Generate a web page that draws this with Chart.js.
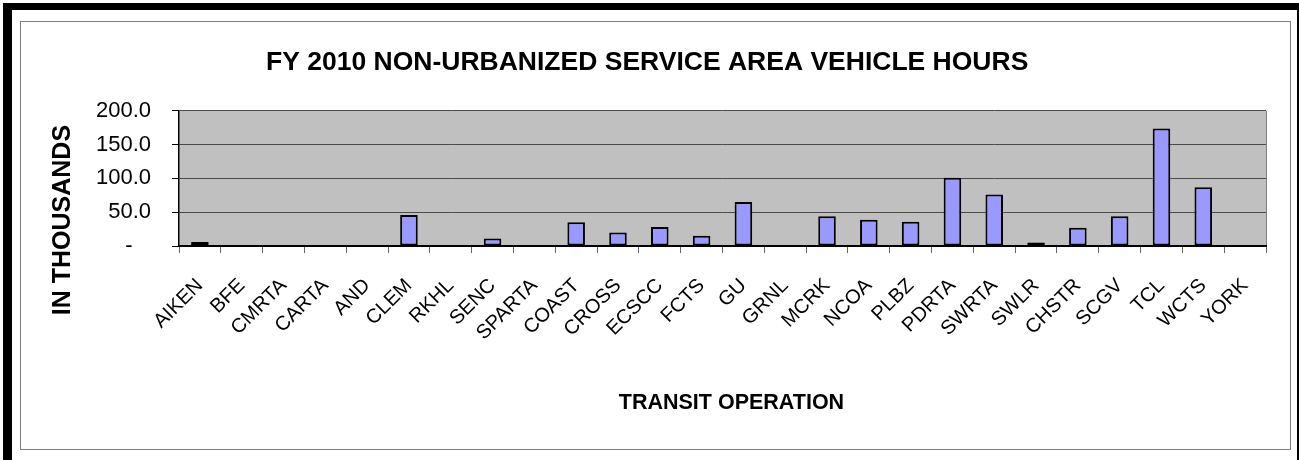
<!DOCTYPE html>
<html>
<head>
<meta charset="utf-8">
<script src="https://cdn.jsdelivr.net/npm/chart.js@4/dist/chart.umd.min.js"></script>
<style>
  html, body { margin: 0; padding: 0; background: #fff; overflow: hidden; }
  body { width: 1299px; height: 460px; position: relative; }
  .blk { position: absolute; background: #000; }
  #frame { position: absolute; left: 20px; top: 21px; width: 1271px; height: 429px;
           box-sizing: border-box; border: 1px solid #808080; }
  #box { position: absolute; left: 21px; top: 22px; width: 1268px; height: 426px; }
</style>
</head>
<body>
<div class="blk" style="left:3px;top:3px;width:1296px;height:7px"></div>
<div class="blk" style="left:3px;top:3px;width:9px;height:457px"></div>
<div class="blk" style="left:1297px;top:3px;width:2px;height:457px"></div>
<div id="frame"></div>
<div id="box"><canvas id="myChart"></canvas></div>
<script>
// transit operations and vehicle hours (thousands)
var operations = ['AIKEN', 'BFE', 'CMRTA', 'CARTA', 'AND', 'CLEM', 'RKHL', 'SENC', 'SPARTA',
    'COAST', 'CROSS', 'ECSCC', 'FCTS', 'GU', 'GRNL', 'MCRK', 'NCOA', 'PLBZ', 'PDRTA',
    'SWRTA', 'SWLR', 'CHSTR', 'SCGV', 'TCL', 'WCTS', 'YORK'];
var vehicleHours = [6, 0, 0, 0, 0, 46, 0, 11, 0,
    35, 20, 28, 15, 65, 0, 44, 39, 36, 101,
    76, 5, 27, 44, 174, 87, 1.5];
var yTicks = [0, 50, 100, 150, 200];

var fontFamily = 'Arial, "Liberation Sans", sans-serif';

// gray plot area like the old excel charts
var plotBackground = {
    id: 'plotBackground',
    beforeDraw: function(chart) {
        var a = chart.chartArea, c = chart.ctx;
        c.save();
        c.fillStyle = '#C0C0C0';
        c.fillRect(a.left, a.top, a.right - a.left, a.bottom - a.top);
        c.strokeStyle = '#808080';
        c.lineWidth = 1;
        c.beginPath();
        c.moveTo(a.right + 0.5, a.top);
        c.lineTo(a.right + 0.5, a.bottom);
        c.stroke();
        c.restore();
    }
};

var ctx = document.getElementById('myChart').getContext('2d');
var myChart = new Chart(ctx, {
    type: 'bar',
    data: {
        labels: operations,
        datasets: [{
            label: 'Vehicle Hours',
            data: vehicleHours,
            backgroundColor: '#9999FF',
            borderColor: '#000000',
            borderWidth: 2,
            borderSkipped: false,
            barPercentage: 0.42,
            categoryPercentage: 1
        }]
    },
    options: {
        responsive: true,
        maintainAspectRatio: false,
        animation: false,
        layout: { padding: { left: 0, right: 23, top: 0, bottom: 0 } },
        plugins: {
            legend: { display: false },
            tooltip: { enabled: false },
            title: {
                display: true,
                text: ' FY 2010 NON-URBANIZED SERVICE AREA VEHICLE HOURS',
                color: '#000',
                font: { family: fontFamily, size: 26.5, weight: 'bold', lineHeight: 1.2 },
                padding: { top: 25, bottom: 32 }
            }
        },
        scales: {
            x: {
                offset: true,
                grid: { offset: true, drawOnChartArea: false, tickLength: 7, tickColor: '#666', tickWidth: 1 },
                border: { color: '#000', width: 2 },
                ticks: {
                    color: '#000',
                    minRotation: 45,
                    maxRotation: 45,
                    autoSkip: false,
                    padding: 21,
                    labelOffset: 0,
                    font: { family: fontFamily, size: 20 }
                },
                title: {
                    display: true,
                    text: '   TRANSIT OPERATION',
                    color: '#000',
                    font: { family: fontFamily, size: 21.5, weight: 'bold', lineHeight: 1.2 },
                    padding: { top: 0, bottom: 32 }
                },
                afterFit: function(scale) { scale.height = 202; }
            },
            y: {
                min: 0,
                max: 200,
                afterBuildTicks: function(scale) {
                    scale.ticks = yTicks.map(function(v) { return { value: v }; });
                },
                grid: { color: '#4a4a4a', lineWidth: 1, tickLength: 7, tickColor: '#000' },
                border: { color: '#000', width: 1.5 },
                ticks: {
                    color: '#000',
                    padding: 21,
                    font: { family: fontFamily, size: 22 },
                    callback: function(value) {
                        return value === 0 ? '-   ' : value.toFixed(1);
                    }
                },
                title: {
                    display: true,
                    // trailing spaces push the text down like the excel original
                    text: 'IN THOUSANDS            ',
                    color: '#000',
                    font: { family: fontFamily, size: 25, weight: 'bold', lineHeight: 1.2 },
                    padding: { top: 27, bottom: 0 }
                },
                afterFit: function(scale) { scale.width = 158; }
            }
        }
    },
    plugins: [plotBackground]
});
</script>
</body>
</html>
